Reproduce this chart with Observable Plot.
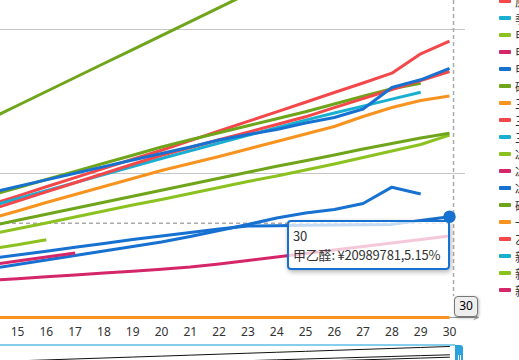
<!DOCTYPE html>
<html><head><meta charset="utf-8">
<script src="https://cdn.jsdelivr.net/npm/d3@7"></script>
<script src="https://cdn.jsdelivr.net/npm/@observablehq/plot@0.6"></script>
<style>
html,body{margin:0;padding:0;background:#fff;overflow:hidden;}
#wrap{position:relative;width:519px;height:360px;overflow:hidden;font-family:"Noto Sans","Noto Sans CJK SC",sans-serif;}
#wrap svg{position:absolute;left:0;}
#tip{position:absolute;left:287px;top:220px;width:163px;height:50px;box-sizing:border-box;border:2px solid #1771d0;border-radius:4px;background:rgba(255,255,255,0.75);box-shadow:1px 2px 5px rgba(0,0,0,0.3);padding:3.5px 0 0 4px;font-size:13px;line-height:19px;color:#333;white-space:nowrap;letter-spacing:-0.2px;font-family:"Noto Sans CJK SC","Noto Sans",sans-serif;}
#ptr{position:absolute;left:454px;top:296px;width:24px;height:21px;box-sizing:border-box;border:1.5px solid #777;border-radius:4px;background:#eee;box-shadow:1px 1px 3px rgba(0,0,0,0.3);font-size:12px;line-height:18px;text-align:center;color:#000;}
.lg{position:absolute;left:499px;height:17px;white-space:nowrap;font-size:12px;line-height:17px;color:#333;font-family:"Noto Sans CJK SC",sans-serif;}
.lg i{position:absolute;left:0;top:6.5px;width:12px;height:4px;border-radius:1px;}
.lg span{position:absolute;left:16px;top:0;}
#dzline{position:absolute;left:0;top:344px;width:455px;height:2px;background:#86cdee;}
#dzhandle{position:absolute;left:455px;top:345px;width:8px;height:20px;background:#29a2de;border-radius:0 3px 0 0;}
#dzhandle b{position:absolute;top:10px;width:1px;height:10px;background:#fff;}
</style></head><body><div id="wrap"></div>
<script>
// categories (days)
const days = [14,15,16,17,18,19,20,21,22,23,24,25,26,27,28,29,30];
const tickLabels = [15,16,17,18,19,20,21,22,23,24,25,26,27,28,29,30];
const tickMarks = [14.5,15.5,16.5,17.5,18.5,19.5,20.5,21.5,22.5,23.5,24.5,25.5,26.5,27.5,28.5,29.5,30.5];
const gridValues = [30, 60];           // 百万元
const palette = ["#f4474a","#19afd0","#8bc21f","#d6266a","#1771d0","#6fa51a","#f7931e"];

// series values (百万元), day 14 .. 30
const shaoJian      = [41.25,44.17,47.08,50.0,52.92,55.81,58.73,61.65,64.56,67.48,70.3,73.4,76.1,79.2,82.0,85.1,87.9];
const yuanYou       = [23.38,25.29,27.23,29.15,31.06,32.98,34.85,36.85,38.85,40.85,42.85,44.85,46.88,48.85,50.9,54.94,57.6];
const xiaoSuan      = [25.31,27.04,28.75,30.44,32.13,33.81,35.52,37.02,38.48,39.96,41.42,42.88,44.48,46.08,47.65,48.81];
const sanYiAn       = [22.33,24.25,26.17,28.08,30.0,31.92,33.81,35.42,37.02,38.63,40.21,41.81,43.71,45.6,47.5,49.38,51.25];
const jiWuSiChun    = [23.06,24.75,26.42,28.1,29.79,31.46,33.13,34.73,36.33,37.94,39.52,41.13,42.6,44.04,45.5,46.94];
const bingYiSuan    = [25.9,27.29,28.67,30.06,31.44,32.81,34.17,35.52,36.98,38.13,39.17,40.52,41.67,43.44,47.92,49.52,51.88];
const sanLvJiaWan   = [20.52,22.19,23.96,25.63,27.29,28.96,30.63,32.08,33.54,35.1,36.67,38.23,39.79,41.88,43.75,45.21,46.15];
const tanSuanNa     = [19.0,20.25,21.5,22.75,24.0,25.25,26.5,27.75,29.0,30.25,31.5,32.65,33.85,35.1,36.25,37.4,38.4];
const jiaChun       = [17.29,18.48,19.69,20.94,22.19,23.44,24.58,25.83,27.08,28.33,29.48,30.73,31.98,33.33,34.69,36.04,37.98];
const bingCuSuan    = [14.25,15.15,16.19];
const bingJingShi   = [10.94,11.77,12.6,13.44];
const jiaQuan       = [7.71,8.08,8.48,8.85,9.25,9.63,10.04,10.52,11.15,11.88,12.6,13.33,14.06,14.79,15.52,16.25,16.98];
const jiaYiQuan     = [12.25,13.02,13.81,14.63,15.42,16.25,16.98,17.71,18.44,19.06,19.12,19.2,19.25,19.3,19.4,20.21,20.989781];
const anShui        = [10.1,11.04,11.98,12.92,13.85,14.79,15.73,16.88,18.13,19.38,20.73,21.77,22.5,23.75,27.15,25.73];
const yiLvJiaWan    = [0,0,0,0,0,0,0,0,0,0,0,0,0,0,0,0,0];

// legend rows (visible part)
const legendNames = ["原油","季戊四醇","甲醇","甲醛","甲乙醛","硝酸","三氯甲烷","三乙胺","三聚氰胺","冰醋酸","冰晶石","冰乙酸","碳酸钠","一氯甲烷","乙二醇","新戊二醇","新癸酸","新己酸"];

// data-zoom shadow (slider units)
const shadowA = [23.9,27.3,30.6,34.1,37.5,40.9,44.2,47.7,51.2,54.6,58.0,61.3,64.8,68.2,71.6,75.1,78.6];
const shadowB = [25.0,28.0,31.0,34.0,37.0,40.0,43.0,46.0,48.9];
const shadowC = [25.0,28.0,31.0,34.0,37.2,40.4];

// pointer state
const pointer = {day: 30.14, value: 19.65};
const hover = {day: 30, value: 20.989781};
const axisEnd = 31.0;

const series = [
  {name:"烧碱", values: shaoJian, color: palette[5]},
  {name:"氨水", values: anShui, color: palette[4]},
  {name:"原油", values: yuanYou, color: palette[0]},
  {name:"季戊四醇", values: jiWuSiChun, color: palette[1]},
  {name:"甲醇", values: jiaChun, color: palette[2]},
  {name:"甲醛", values: jiaQuan, color: palette[3]},
  {name:"甲乙醛", values: jiaYiQuan, color: palette[4]},
  {name:"硝酸", values: xiaoSuan, color: palette[5]},
  {name:"三氯甲烷", values: sanLvJiaWan, color: palette[6]},
  {name:"三乙胺", values: sanYiAn, color: palette[0]},
  {name:"冰醋酸", values: bingCuSuan, color: palette[2]},
  {name:"冰晶石", values: bingJingShi, color: palette[3]},
  {name:"冰乙酸", values: bingYiSuan, color: palette[4]},
  {name:"碳酸钠", values: tanSuanNa, color: palette[5]},
  {name:"一氯甲烷", values: yiLvJiaWan, color: palette[6]},
];

const toRows = vals => vals.map((v,i)=>({day: days[i], value: v}));

const lineMarks = series.map(s => Plot.line(toRows(s.values), {x:"day", y:"value", stroke: s.color, strokeWidth: 3, strokeLinejoin:"round", strokeLinecap:"butt"}));

const xOpts = {type:"linear", domain:[15,30], range:[17,449], axis:null};
const yOpts = {type:"linear", domain:[0,60], range:[317,29], axis:null};

const main = Plot.plot({
  width: 519, height: 360,
  marginLeft: 0, marginRight: 54, marginTop: 0, marginBottom: 38,
  x: xOpts, y: yOpts,
  style: {background:"transparent", fontFamily:"'Noto Sans',sans-serif", overflow:"visible"},
  marks: [
    Plot.ruleY(gridValues, {stroke:"#c6c6c6", strokeWidth:1}),
    Plot.ruleX(tickMarks, {x: d=>d, y1: 0, stroke:"#9a9a9a", strokeWidth:1}),
    Plot.arrow([{a:days[0], b:axisEnd}], {x1:"a", x2:"b", y1:0, y2:0, stroke:"#9a9a9a", strokeWidth:1, headLength:7, headAngle:50}),
    Plot.text(tickLabels, {x: d=>d, y: 0, dy: 15, text: d=>String(d), fill:"#333", fontSize:12}),
    Plot.ruleX([pointer.day], {x: d=>d, stroke:"#aaa", strokeWidth:1.5, strokeDasharray:"4,3", insetBottom:26}),
    Plot.ruleY([pointer.value], {y: d=>d, x2: pointer.day, stroke:"#aaa", strokeWidth:1.5, strokeDasharray:"4,3"}),
    ...lineMarks
  ]
});
main.style.top = "0px";
const wrap = document.getElementById("wrap");
wrap.appendChild(main);

// slider overlay
const slider = Plot.plot({
  width: 519, height: 30,
  marginLeft: 0, marginRight: 54, marginTop: 0, marginBottom: 0,
  x: xOpts,
  y: {type:"linear", domain:[0,100], range:[28,0], axis:null},
  style: {background:"transparent", overflow:"visible"},
  marks: [
    Plot.line(toRows(shadowA), {x:"day", y:"value", stroke:"#111", strokeWidth:1}),
    Plot.line(shadowB.map((v,i)=>({day: days[8+i], value: v})), {x:"day", y:"value", stroke:"#111", strokeWidth:1}),
    Plot.line(shadowC.map((v,i)=>({day: days[11+i], value: v})), {x:"day", y:"value", stroke:"#111", strokeWidth:1}),
  ]
});
slider.style.top = "340px";

const dz = document.createElement("div"); dz.id = "dzline"; wrap.appendChild(dz);
wrap.appendChild(slider);
const h = document.createElement("div"); h.id = "dzhandle";
h.innerHTML = '<b style="left:2.5px"></b><b style="left:5px"></b>';
wrap.appendChild(h);

// tooltip
const tip = document.createElement("div"); tip.id = "tip";
tip.innerHTML = `<div>${hover.day}</div><div>甲乙醛: ¥20989781,5.15%</div>`;
wrap.appendChild(tip);

// emphasised point above tooltip
const dotLayer = Plot.plot({
  width: 519, height: 360,
  marginLeft: 0, marginRight: 54, marginTop: 0, marginBottom: 38,
  x: xOpts, y: yOpts,
  style: {background:"transparent", overflow:"visible", pointerEvents:"none"},
  marks: [Plot.dot([hover], {x:"day", y:"value", r:5.5, fill:"#1771d0", stroke:"#1771d0"})]
});
dotLayer.style.top = "0px";
wrap.appendChild(dotLayer);

// axis pointer label
const ptr = document.createElement("div"); ptr.id = "ptr"; ptr.textContent = String(hover.day);
wrap.appendChild(ptr);

// legend
legendNames.forEach((n,i) => {
  const d = document.createElement("div");
  d.className = "lg";
  d.style.top = (1 + 17*i - 8.5) + "px";
  d.innerHTML = `<i style="background:${palette[i % 7]}"></i><span>${n}</span>`;
  wrap.appendChild(d);
});
</script></body></html>
